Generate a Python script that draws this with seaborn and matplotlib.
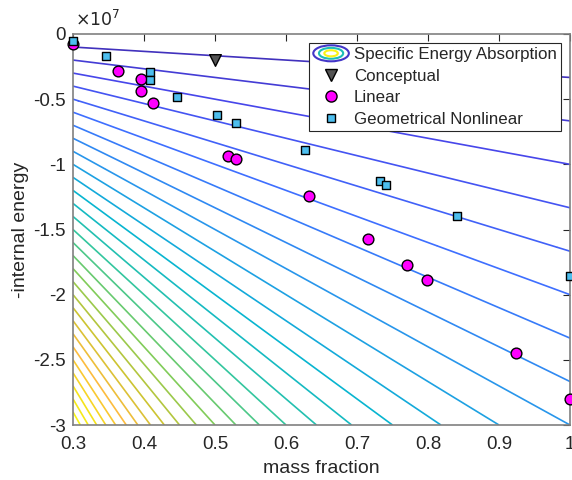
import numpy as np
import pandas as pd
import matplotlib
matplotlib.use("Agg")
import matplotlib.pyplot as plt
import seaborn as sns
from matplotlib.colors import LinearSegmentedColormap, Normalize
from matplotlib.legend_handler import HandlerBase
from matplotlib.patches import Ellipse
from matplotlib.lines import Line2D

# ---- data ----
conceptual_mass = [0.50]
conceptual_energy = [-0.20e7]

linear_mass = [0.300, 0.363, 0.396, 0.396, 0.413, 0.518, 0.529, 0.632, 0.715, 0.770, 0.799, 0.924, 1.000]
linear_energy = [-0.079e7, -0.281e7, -0.342e7, -0.436e7, -0.530e7, -0.933e7, -0.956e7,
                 -1.245e7, -1.576e7, -1.775e7, -1.887e7, -2.446e7, -2.800e7]

geo_mass = [0.300, 0.347, 0.408, 0.408, 0.446, 0.503, 0.530, 0.627, 0.733, 0.741, 0.841, 1.000]
geo_energy = [-0.054e7, -0.168e7, -0.288e7, -0.352e7, -0.480e7, -0.625e7, -0.686e7,
              -0.893e7, -1.127e7, -1.155e7, -1.400e7, -1.860e7]

x_ticks = [0.3, 0.4, 0.5, 0.6, 0.7, 0.8, 0.9, 1.0]
x_tick_labels = ["0.3", "0.4", "0.5", "0.6", "0.7", "0.8", "0.9", "1"]
y_ticks = [0, -0.5e7, -1e7, -1.5e7, -2e7, -2.5e7, -3e7]
y_tick_labels = ["0", "-0.5", "-1", "-1.5", "-2", "-2.5", "-3"]
n_levels = 30
sea_max = 1e8

# ---- style ----
sns.set_style("white")
plt.rcParams['font.family'] = ['Liberation Sans', 'DejaVu Sans']
plt.rcParams['axes.unicode_minus'] = False

parula = LinearSegmentedColormap.from_list("parula", [
    (0.2422, 0.1504, 0.6603), (0.2803, 0.2782, 0.9221), (0.2440, 0.4358, 0.9988),
    (0.1540, 0.5902, 0.9218), (0.0297, 0.7082, 0.8163), (0.1938, 0.7758, 0.6251),
    (0.5044, 0.7993, 0.3480), (0.8000, 0.7679, 0.1930), (0.9871, 0.7358, 0.2438),
    (0.9598, 0.8870, 0.1016), (0.9769, 0.9839, 0.0805)])

fig = plt.figure(figsize=(5.72, 4.80), dpi=100)
ax = fig.add_axes([73/572, 1-425/480, (570-73)/572, (425-34)/480])

# contour of specific energy absorption = -energy / mass
xg = np.linspace(0.3, 1.0, 300)
yg = np.linspace(-3e7, 0, 300)
X, Y = np.meshgrid(xg, yg)
Z = -Y / X
levels = np.arange(1, n_levels) * sea_max / n_levels
ax.contour(X, Y, Z, levels=levels, cmap=parula, norm=Normalize(0, sea_max), linewidths=1.2)

gray = (0.33, 0.33, 0.33)
mag = (1.0, 0.0, 1.0)
cyan = (0.30, 0.745, 0.933)
sns.scatterplot(x=conceptual_mass, y=conceptual_energy, marker="v", s=70, color=gray,
                edgecolor="black", linewidth=1.0, ax=ax, zorder=5, clip_on=False)
sns.scatterplot(x=linear_mass, y=linear_energy, marker="o", s=60, color=mag,
                edgecolor="black", linewidth=1.0, ax=ax, zorder=5, clip_on=False)
sns.scatterplot(x=geo_mass, y=geo_energy, marker="s", s=36, color=cyan,
                edgecolor="black", linewidth=1.0, ax=ax, zorder=6, clip_on=False)

ax.set_xlim(0.3, 1.0)
ax.set_ylim(-3e7, 0)
ax.set_xticks(x_ticks)
ax.set_xticklabels(x_tick_labels)
ax.set_yticks(y_ticks)
ax.set_yticklabels(y_tick_labels)
axc = (0.15, 0.15, 0.15)
ax.tick_params(direction="in", top=True, right=True, length=5, width=0.8,
               labelsize=13.5, colors=axc, labelcolor=axc)
ax.tick_params(axis="x", pad=8)
ax.tick_params(axis="y", pad=5)
for sp in ax.spines.values():
    sp.set_color((0.5, 0.5, 0.5))
    sp.set_linewidth(1.2)
    sp.set_visible(True)
ax.set_xlabel("mass fraction", fontsize=14, color=axc, labelpad=5)
ax.set_ylabel("-internal energy", fontsize=14, color=axc, labelpad=3)
ax.text(0.004, 1.012, r"$\times10^{7}$", transform=ax.transAxes, fontsize=12.5,
        color=axc, ha="left", va="bottom")


class ContourHandle:
    pass


class HandlerContour(HandlerBase):
    def create_artists(self, legend, orig_handle, xdescent, ydescent, width, height,
                       fontsize, trans):
        cx = width / 2 - xdescent
        cy = height / 2 - ydescent
        arts = []
        for sc, c in [(1.0, parula(0.05)), (0.68, parula(0.45)), (0.38, parula(0.97))]:
            e = Ellipse((cx, cy), width * sc, height * 1.35 * sc, fill=False,
                        edgecolor=c, lw=1.5, transform=trans)
            arts.append(e)
        return arts


handles = [ContourHandle(),
           Line2D([], [], ls="none", marker="v", ms=8.5, mfc=gray, mec="black"),
           Line2D([], [], ls="none", marker="o", ms=8, mfc=mag, mec="black"),
           Line2D([], [], ls="none", marker="s", ms=6, mfc=cyan, mec="black")]
labels = ["Specific Energy Absorption", "Conceptual", "Linear", "Geometrical Nonlinear"]
leg = ax.legend(handles, labels, handler_map={ContourHandle: HandlerContour()},
                loc="upper right", bbox_to_anchor=(0.982, 0.977), fontsize=12.2,
                frameon=True, fancybox=False, edgecolor=axc, framealpha=1,
                borderpad=0.25, labelspacing=0.38, handlelength=2.1, handletextpad=0.3,
                borderaxespad=0.0)
leg.get_frame().set_linewidth(0.8)
leg.set_zorder(10)

fig.savefig("out.png", dpi=100)
